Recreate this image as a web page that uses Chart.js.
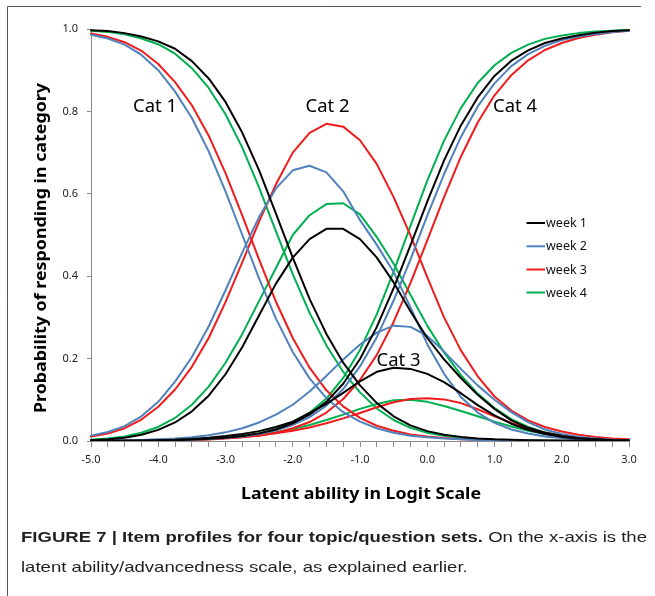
<!DOCTYPE html>
<html>
<head>
<meta charset="utf-8">
<script src="https://cdn.jsdelivr.net/npm/chart.js@4.4.1/dist/chart.umd.min.js"></script>
<style>
  html, body { margin: 0; padding: 0; background: #fff; }
  canvas { display: block; }
</style>
</head>
<body>
<canvas id="itemchart" width="655" height="596"></canvas>
<script>
// latent ability points (logit scale), one every 0.25
const theta = [-5,-4.75,-4.5,-4.25,-4,-3.75,-3.5,-3.25,-3,-2.75,-2.5,-2.25,-2,-1.75,-1.5,-1.25,-1,-0.75,-0.5,-0.25,0,0.25,0.5,0.75,1,1.25,1.5,1.75,2,2.25,2.5,2.75,3]

// week 1 (black)
const week1Cat1 = [0.997,0.995,0.99,0.982,0.97,0.952,0.922,0.88,0.823,0.748,0.657,0.552,0.445,0.345,0.26,0.19,0.135,0.092,0.06,0.038,0.024,0.015,0.01,0.006,0.004,0.003,0.002,0.001,0.001,0.001,0,0,0]
const week1Cat2 = [0.002,0.004,0.008,0.015,0.027,0.045,0.072,0.11,0.162,0.228,0.305,0.382,0.445,0.49,0.515,0.515,0.49,0.445,0.385,0.315,0.25,0.198,0.153,0.112,0.078,0.05,0.032,0.02,0.012,0.007,0.004,0.002,0.001]
const week1Cat3 = [0.0003,0.0005,0.0008,0.0012,0.002,0.003,0.005,0.008,0.012,0.017,0.024,0.034,0.047,0.068,0.09,0.117,0.145,0.168,0.178,0.175,0.163,0.143,0.116,0.087,0.062,0.042,0.027,0.017,0.01,0.006,0.004,0.002,0.001]
const week1Cat4 = [0.0003,0.0004,0.0006,0.0009,0.0014,0.0022,0.0034,0.0052,0.0079,0.012,0.0185,0.028,0.043,0.064,0.095,0.139,0.199,0.277,0.371,0.475,0.581,0.681,0.766,0.834,0.886,0.923,0.948,0.966,0.977,0.985,0.991,0.995,0.997]

// week 2 (blue)
const week2Cat1 = [0.986,0.977,0.962,0.937,0.9,0.848,0.784,0.703,0.606,0.5,0.394,0.297,0.216,0.152,0.104,0.07,0.047,0.031,0.02,0.013,0.009,0.006,0.004,0.0025,0.0015,0.001,0.0007,0.0004,0.0003,0.0002,0.0001,0.0001,0]
const week2Cat2 = [0.013,0.022,0.036,0.06,0.095,0.144,0.204,0.278,0.366,0.458,0.544,0.613,0.657,0.668,0.652,0.606,0.536,0.476,0.41,0.325,0.235,0.163,0.107,0.069,0.044,0.028,0.018,0.011,0.007,0.004,0.003,0.002,0.001]
const week2Cat3 = [0.0005,0.001,0.0015,0.0025,0.004,0.006,0.009,0.014,0.021,0.031,0.045,0.064,0.088,0.12,0.158,0.198,0.234,0.263,0.28,0.277,0.255,0.217,0.175,0.135,0.1,0.07,0.046,0.028,0.017,0.01,0.006,0.003,0.002]
const week2Cat4 = [0.0002,0.0004,0.0006,0.0009,0.0013,0.002,0.0031,0.0048,0.0073,0.011,0.017,0.026,0.039,0.058,0.086,0.126,0.181,0.252,0.341,0.44,0.547,0.648,0.738,0.812,0.868,0.91,0.939,0.959,0.973,0.982,0.988,0.993,0.996]

// week 3 (red)
const week3Cat1 = [0.989,0.981,0.968,0.947,0.915,0.871,0.815,0.741,0.65,0.547,0.44,0.338,0.25,0.178,0.123,0.084,0.056,0.037,0.025,0.016,0.011,0.007,0.0045,0.003,0.002,0.0013,0.0008,0.0005,0.0003,0.0002,0.0002,0.0001,0.0001]
const week3Cat2 = [0.011,0.018,0.031,0.052,0.083,0.125,0.18,0.25,0.337,0.434,0.533,0.623,0.7,0.748,0.77,0.763,0.73,0.672,0.592,0.499,0.398,0.3,0.22,0.157,0.108,0.074,0.05,0.034,0.023,0.015,0.01,0.006,0.004]
const week3Cat3 = [0.0002,0.0003,0.0005,0.0007,0.001,0.002,0.003,0.005,0.007,0.01,0.014,0.019,0.025,0.033,0.043,0.055,0.068,0.082,0.094,0.102,0.104,0.101,0.092,0.077,0.06,0.044,0.03,0.02,0.013,0.008,0.005,0.003,0.002]
const week3Cat4 = [0.0002,0.0003,0.0005,0.0007,0.0011,0.0016,0.0025,0.0038,0.0058,0.0088,0.013,0.02,0.031,0.046,0.069,0.102,0.148,0.209,0.289,0.383,0.487,0.592,0.69,0.773,0.839,0.888,0.924,0.949,0.966,0.978,0.986,0.992,0.996]

// week 4 (green)
const week4Cat1 = [0.996,0.993,0.987,0.977,0.963,0.94,0.905,0.857,0.793,0.712,0.615,0.509,0.405,0.311,0.232,0.168,0.118,0.079,0.051,0.032,0.02,0.013,0.008,0.005,0.003,0.002,0.0015,0.001,0.0007,0.0005,0.0003,0.0002,0.0001]
const week4Cat2 = [0.003,0.006,0.011,0.02,0.034,0.056,0.088,0.132,0.19,0.26,0.34,0.42,0.5,0.548,0.575,0.577,0.55,0.495,0.43,0.355,0.28,0.215,0.16,0.115,0.08,0.053,0.034,0.021,0.013,0.008,0.005,0.003,0.002]
const week4Cat3 = [0.0002,0.0003,0.0005,0.0008,0.0012,0.002,0.003,0.0045,0.007,0.01,0.015,0.021,0.029,0.039,0.051,0.064,0.078,0.09,0.099,0.1,0.095,0.085,0.073,0.06,0.047,0.035,0.025,0.017,0.011,0.007,0.004,0.003,0.002]
const week4Cat4 = [0.0002,0.0003,0.0005,0.0008,0.0013,0.002,0.0031,0.0049,0.0077,0.012,0.0187,0.029,0.045,0.0685,0.103,0.153,0.221,0.308,0.411,0.522,0.632,0.729,0.808,0.869,0.912,0.942,0.962,0.976,0.984,0.99,0.994,0.996,0.998]

const weekNames = ['week 1', 'week 2', 'week 3', 'week 4']
const weekColors = ['#000000', '#4f81bd', '#f01c1c', '#00b050']
const catNames = ['Cat 1', 'Cat 2', 'Cat 3', 'Cat 4']
const yTicks = [0, 0.2, 0.4, 0.6, 0.8, 1.0]

const weekData = [
  [week1Cat1, week1Cat2, week1Cat3, week1Cat4],
  [week2Cat1, week2Cat2, week2Cat3, week2Cat4],
  [week3Cat1, week3Cat2, week3Cat3, week3Cat4],
  [week4Cat1, week4Cat2, week4Cat3, week4Cat4]
]

const datasets = []
weekData.forEach((cats, w) => {
  cats.forEach((values, c) => {
    datasets.push({
      label: weekNames[w] + ' ' + catNames[c],
      data: values,
      borderColor: weekColors[w],
      backgroundColor: weekColors[w],
      borderWidth: 2,
      pointRadius: 0,
      tension: 0,
      fill: false,
      borderJoinStyle: 'round',
      borderCapStyle: 'round'
    })
  })
})

// draws frame, titles, category labels, legend and caption
function fitText(c, text, x, y, width) {
  const m = c.measureText(text).width
  c.save()
  c.translate(x, y)
  c.scale(width / m, 1)
  c.fillText(text, 0, 0)
  c.restore()
}

const extras = {
  id: 'extras',
  afterDraw(chart) {
    const c = chart.ctx
    c.save()

    // figure frame (left and top rules)
    c.strokeStyle = '#555'
    c.lineWidth = 1
    c.beginPath()
    c.moveTo(7.5, 6.5)
    c.lineTo(7.5, 596)
    c.moveTo(7.5, 6.5)
    c.lineTo(641, 6.5)
    c.stroke()

    c.fillStyle = '#000'
    c.textBaseline = 'middle'
    c.textAlign = 'center'

    // axis titles
    c.font = 'bold 16px "Noto Sans"'
    fitText(c, 'Latent ability in Logit Scale', 361, 494, 240)
    c.save()
    c.translate(41, 248)
    c.rotate(-Math.PI / 2)
    fitText(c, 'Probability of responding in category', 0, 0, 330)
    c.restore()

    // category labels
    c.font = '18px "Noto Sans"'
    const catPos = [[155, 107], [327.5, 107], [398.5, 361], [515, 107]]
    catNames.forEach((t, i) => fitText(c, t, catPos[i][0], catPos[i][1], 44))

    // legend
    const rows = [223, 246.3, 269.5, 292.5]
    c.font = '12.5px "Noto Sans"'
    c.textAlign = 'left'
    weekNames.forEach((t, i) => {
      c.strokeStyle = weekColors[i]
      c.lineWidth = 2
      c.beginPath()
      c.moveTo(526.5, rows[i])
      c.lineTo(545, rows[i])
      c.stroke()
      c.fillStyle = '#111'
      c.fillText(t, 546, rows[i] + 0.5)
    })

    // caption
    const boldPart = 'FIGURE 7 | Item profiles for four topic/question sets.'
    const restPart = ' On the x-axis is the'
    const line2 = 'latent ability/advancedness scale, as explained earlier.'
    c.fillStyle = '#231f20'
    c.font = 'bold 15px "Liberation Sans"'
    const wb = c.measureText(boldPart).width
    c.font = '15px "Liberation Sans"'
    const wr = c.measureText(restPart).width
    const s = 626 / (wb + wr)
    c.save()
    c.translate(21, 538)
    c.scale(s, 1)
    c.font = 'bold 15px "Liberation Sans"'
    c.fillText(boldPart, 0, 0)
    c.font = '15px "Liberation Sans"'
    c.fillText(restPart, wb, 0)
    c.restore()
    c.save()
    c.translate(21, 568)
    c.scale(s, 1)
    c.fillText(line2, 0, 0)
    c.restore()

    c.restore()
  }
}

const ctx = document.getElementById('itemchart')

const itemChart = new Chart(ctx, {
  type: 'line',
  data: {
    labels: theta.map(String),
    datasets: datasets
  },
  options: {
    responsive: false,
    devicePixelRatio: 1,
    animation: false,
    layout: { padding: { top: 29, right: 26, bottom: 0, left: 0 } },
    plugins: {
      legend: { display: false },
      tooltip: { enabled: false }
    },
    scales: {
      x: {
        type: 'category',
        offset: false,
        grid: { drawOnChartArea: false, drawTicks: true, tickLength: 6, color: '#8c8c8c', offset: false },
        border: { display: true, color: '#8c8c8c', width: 1 },
        ticks: {
          autoSkip: false,
          maxRotation: 0,
          padding: 6,
          color: '#222',
          font: { family: 'Noto Sans', size: 11 },
          callback: (v, i) => i % 4 === 0 ? theta[i].toFixed(1) : ''
        },
        afterFit: (scale) => { scale.height = 155 }
      },
      y: {
        min: 0,
        max: 1,
        afterBuildTicks: (scale) => { scale.ticks = yTicks.map(v => ({ value: v })) },
        grid: { drawOnChartArea: false, drawTicks: true, tickLength: 4, color: '#8c8c8c' },
        border: { display: true, color: '#8c8c8c', width: 1 },
        ticks: {
          padding: 9,
          color: '#222',
          font: { family: 'Noto Sans', size: 11 },
          callback: (v) => v.toFixed(1)
        },
        afterFit: (scale) => { scale.width = 91 }
      }
    }
  },
  plugins: [extras]
})
</script>
</body>
</html>
